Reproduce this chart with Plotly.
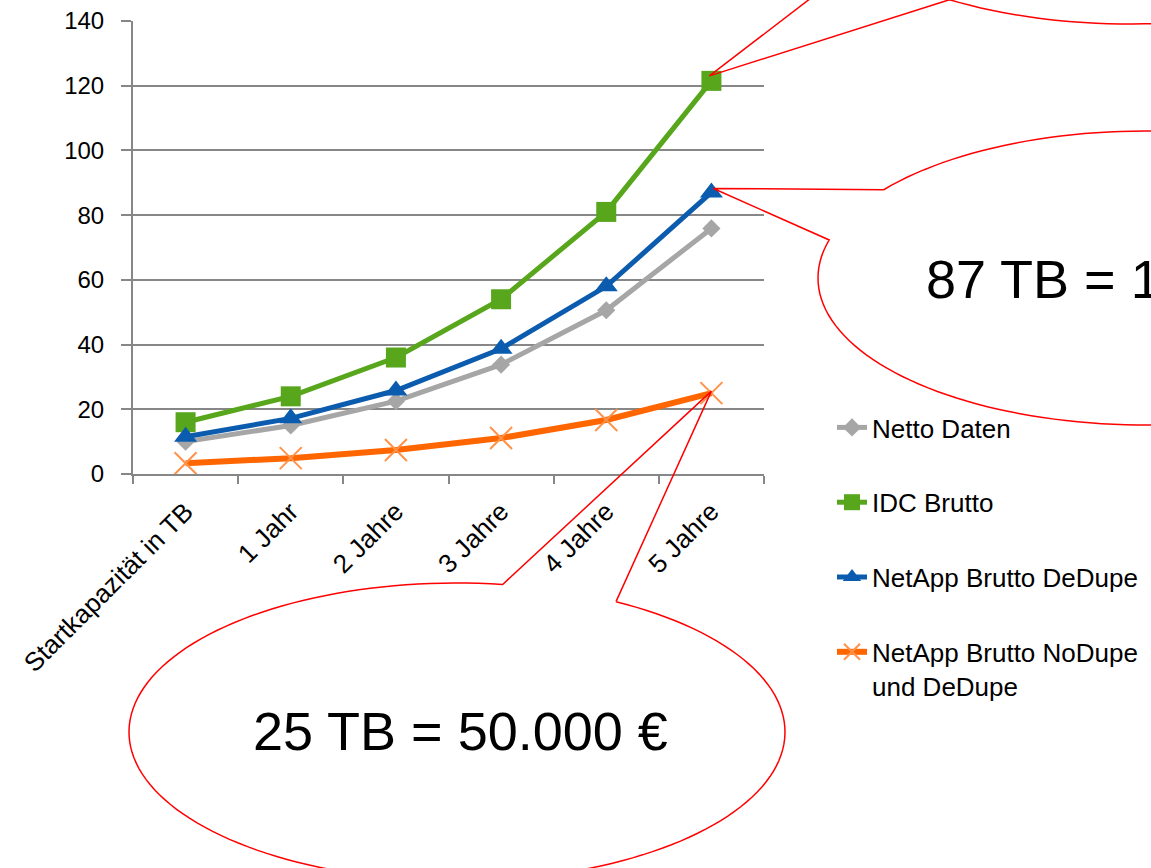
import math
import plotly.graph_objects as go

# ---- data ----
categories = ["Startkapazität in TB", "1 Jahr", "2 Jahre", "3 Jahre", "4 Jahre", "5 Jahre"]
netto_daten = [10, 15, 22.5, 33.8, 50.6, 75.9]
idc_brutto = [16, 24, 36, 54, 81, 121.5]
netapp_dedupe = [11.5, 17.2, 25.8, 38.7, 58, 87]
netapp_nodupe = [3.3, 4.9, 7.4, 11.1, 16.7, 25]
series_names = ["Netto Daten", "IDC Brutto", "NetApp Brutto DeDupe",
                "NetApp Brutto NoDupe<br>und DeDupe"]
callout_texts = ["121 TB = 242.000 €", "87 TB = 174.000 €", "25 TB = 50.000 €"]
y_ticks = [0, 20, 40, 60, 80, 100, 120, 140]

W, H = 1151, 868
X0, X1 = 133, 764      # plot area left/right (px)
YB, YT = 474, 21       # plot area bottom/top (px)
YMAX = 140

FONT = "Liberation Sans, Arial, sans-serif"
GRID = "#878787"


def px(x):
    return (x - X0) / (X1 - X0)


def py(y):
    return (YB - y) / (YB - YT)


def data_px(idx, val):
    n = len(categories)
    return X0 + (idx + 0.5) / n * (X1 - X0), YB - val / YMAX * (YB - YT)


fig = go.Figure()
styles = [
    dict(color="#A6A6A6", symbol="diamond", size=14, width=5),
    dict(color="#58A61B", symbol="square", size=20, width=5),
    dict(color="#0B5CAE", symbol="triangle-up", size=20, width=5),
    dict(color="#FF6600", symbol="x-thin", size=22, width=6),
]
for i, (name, vals, st) in enumerate(zip(series_names,
                                          [netto_daten, idc_brutto, netapp_dedupe, netapp_nodupe],
                                          styles)):
    if st["symbol"] == "x-thin":
        marker = dict(symbol="x-thin", size=st["size"], color="#FF9248",
                      line=dict(color="#FF9248", width=2))
    else:
        marker = dict(symbol=st["symbol"], size=st["size"], color=st["color"],
                      line=dict(width=0))
    fig.add_trace(go.Scatter(
        x=categories, y=vals, name=name, mode="lines+markers",
        line=dict(color=st["color"], width=st["width"]),
        marker=marker, legendgroup=f"g{i}",
    ))


def callout_path(cx, cy, rx, ry, t_start, t_end, tip):
    pts = []
    n = 160
    for k in range(n + 1):
        t = math.radians(t_start + (t_end - t_start) * k / n)
        pts.append((cx + rx * math.cos(t), cy + ry * math.sin(t)))
    pts.append(tip)
    pts.append(pts[0])
    return "M " + " L ".join(f"{px(x):.5f},{py(y):.5f}" for x, y in pts)


RX, RY = 328, 147
last = len(categories) - 1
tx, ty = data_px(last, idc_brutto[-1])
top_path = callout_path(1130, -123, RX, RY, 145.4, 483.4, (tx - 2, ty - 5))
tx, ty = data_px(last, netapp_dedupe[-1])
mid_path = callout_path(1146, 278, RX, RY, 216.9, 555.0, (tx + 2, ty - 4))
tx, ty = data_px(last, netapp_nodupe[-1])
bot_path = callout_path(457, 732, RX, 149, -61.0, 278.0, (tx, ty - 2))

shapes = []
for p in (top_path, mid_path, bot_path):
    shapes.append(dict(type="path", path=p, xref="paper", yref="paper",
                       line=dict(color="#FF0000", width=1.5),
                       fillcolor="rgba(0,0,0,0)", layer="above"))

annotations = [
    dict(text=callout_texts[1], x=px(1148), y=py(279), xref="paper", yref="paper",
         showarrow=False, xanchor="center", yanchor="middle",
         font=dict(family=FONT, size=54, color="#000000")),
    dict(text=callout_texts[2], x=px(460), y=py(731), xref="paper", yref="paper",
         showarrow=False, xanchor="center", yanchor="middle",
         font=dict(family=FONT, size=54, color="#000000")),
]

fig.update_layout(
    width=W, height=H,
    margin=dict(l=X0, r=W - X1, t=YT, b=H - YB, autoexpand=False),
    paper_bgcolor="white", plot_bgcolor="white",
    font=dict(family=FONT, size=24, color="#000000"),
    showlegend=True,
    legend=dict(x=px(832), y=py(404), xanchor="left", yanchor="top",
                font=dict(family=FONT, size=26, color="#000000"),
                tracegroupgap=38, valign="top", bgcolor="rgba(0,0,0,0)"),
    shapes=shapes,
    annotations=annotations,
)
fig.update_xaxes(
    type="category", range=[-0.5, len(categories) - 0.5],
    showgrid=False, showline=True, linecolor=GRID, linewidth=2,
    ticks="outside", tickson="boundaries", ticklen=8, tickwidth=2, tickcolor=GRID,
    tickangle=-45, tickfont=dict(family=FONT, size=26, color="#000000"),
    ticklabelstandoff=10, zeroline=False,
)
fig.update_yaxes(
    range=[0, YMAX], tickvals=y_ticks,
    showgrid=True, gridcolor=GRID, gridwidth=2,
    showline=True, linecolor=GRID, linewidth=2,
    ticks="outside", ticklen=10, tickwidth=2, tickcolor=GRID,
    tickfont=dict(family=FONT, size=24, color="#000000"),
    ticklabelstandoff=12, zeroline=False,
)

fig.write_html(
    "out.html",
    config={"displayModeBar": False},
    post_script="document.body.style.margin='0';document.body.style.overflow='hidden';",
)
